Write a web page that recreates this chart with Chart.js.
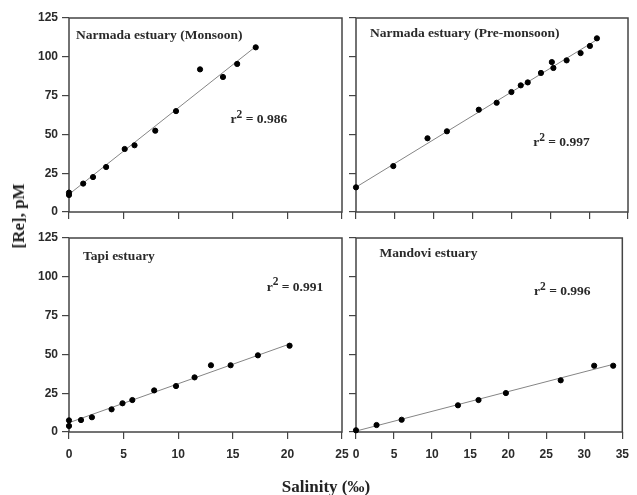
<!DOCTYPE html>
<html>
<head>
<meta charset="utf-8">
<script src="https://cdn.jsdelivr.net/npm/chart.js@4"></script>
<style>
  body{margin:0;background:#fff}
  #wrap{position:relative;width:637px;height:495px;overflow:hidden}
  #wrap canvas{position:absolute;left:0;top:0}
  .axis-title{position:absolute;font:bold 17px "Liberation Serif",serif;color:#222;white-space:nowrap}
  #ylab{left:19px;top:216px;transform:translate(-50%,-50%) rotate(-90deg)}
  #xlab{left:326px;top:487px;transform:translate(-50%,-50%)}
</style>
</head>
<body>
<div id="wrap">
  <canvas id="p-monsoon" width="637" height="495"></canvas>
  <canvas id="p-premonsoon" width="637" height="495"></canvas>
  <canvas id="p-tapi" width="637" height="495"></canvas>
  <canvas id="p-mandovi" width="637" height="495"></canvas>
  <div class="axis-title" id="ylab">[Re], pM</div>
  <div class="axis-title" id="xlab">Salinity (‰)</div>
</div>
<script>
// Re vs salinity, four estuaries
const yTicks = [0, 25, 50, 75, 100, 125];

const monsoonSal = [0, 0, 1.3, 2.2, 3.4, 5.1, 6.0, 7.9, 9.8, 12.0, 14.1, 15.4, 17.1];
const monsoonRe  = [11, 12.5, 18.3, 22.5, 29, 40.6, 43, 52.4, 65, 91.9, 87, 95.4, 106.1];
const monsoonFitSal = [0, 17.1];
const monsoonFitRe  = [11.4, 106.6];

const preSal = [0, 4.8, 9.2, 11.7, 15.8, 18.1, 20.0, 21.2, 22.1, 23.8, 25.2, 25.4, 27.1, 28.9, 30.1, 31.0];
const preRe  = [15.9, 29.6, 47.5, 52, 65.9, 70.4, 77.3, 81.6, 83.5, 89.6, 96.6, 92.8, 97.7, 102.4, 107, 111.9];
const preFitSal = [0, 31];
const preFitRe  = [16, 111];

const tapiSal = [0, 0, 1.1, 2.1, 3.9, 4.9, 5.8, 7.8, 9.8, 11.5, 13.0, 14.8, 17.3, 20.2];
const tapiRe  = [7.5, 3.9, 7.7, 9.5, 14.6, 18.5, 20.6, 26.8, 29.6, 35.2, 43, 43, 49.4, 55.6];
const tapiFitSal = [0, 20.2];
const tapiFitRe  = [6, 56.7];

const mandoviSal = [0, 2.7, 6.0, 13.4, 16.1, 19.7, 26.9, 31.3, 33.8];
const mandoviRe  = [1.1, 4.5, 7.9, 17.2, 20.6, 25.1, 33.3, 42.7, 42.7];
const mandoviFitSal = [0, 33.8];
const mandoviFitRe  = [0.6, 43.6];

const W = 637, H = 495;
const pts = (xs, ys) => xs.map((x, i) => ({x, y: ys[i]}));

// frame + panel captions
const panelDeco = {
  id: 'panelDeco',
  beforeDatasetsDraw(chart) {
    const {ctx, chartArea: a} = chart;
    ctx.save();
    ctx.strokeStyle = '#444'; ctx.lineWidth = 1.5;
    ctx.strokeRect(a.left, a.top, a.right - a.left, a.bottom - a.top);
    ctx.restore();
  },
  afterDatasetsDraw(chart, args, o) {
    const {ctx, scales: {x, y}} = chart;
    const f = s => `bold ${s}px "Liberation Serif", serif`;
    ctx.save();
    ctx.fillStyle = '#2a2a2a'; ctx.textBaseline = 'middle'; ctx.textAlign = 'left';
    ctx.font = f(13.5);
    ctx.fillText(o.title, x.getPixelForValue(o.titleAt[0]), y.getPixelForValue(o.titleAt[1]));
    let px = x.getPixelForValue(o.r2At[0]), py = y.getPixelForValue(o.r2At[1]);
    ctx.fillText('r', px, py); px += ctx.measureText('r').width;
    ctx.font = f(11.5); ctx.fillText('2', px, py - 5); px += ctx.measureText('2').width;
    ctx.font = f(13.5); ctx.fillText(' = ' + o.r2, px, py);
    ctx.restore();
  }
};

const tickFont = {family: '"Liberation Sans", Arial, sans-serif', size: 12, weight: 'bold'};

function panel(id, p) {
  const xH = p.showX ? 40 : 10;
  const yW = p.showY ? 69 : 10;
  const [l, t, r, b] = p.area;
  new Chart(document.getElementById(id), {
    type: 'scatter',
    data: {datasets: [
      {data: pts(p.sal, p.re), backgroundColor: '#000', borderColor: '#000', pointRadius: 2.6, clip: false},
      {data: pts(p.fitSal, p.fitRe), showLine: true, pointRadius: 0, borderColor: '#858585', borderWidth: 1, clip: false}
    ]},
    options: {
      responsive: false, animation: false, devicePixelRatio: 1, events: [],
      layout: {padding: {left: l - yW, top: t, right: W - r, bottom: H - b - xH}},
      plugins: {legend: {display: false}, tooltip: {enabled: false},
        panelDeco: {title: p.title, titleAt: p.titleAt, r2: p.r2, r2At: p.r2At}},
      scales: {
        x: {type: 'linear', min: 0, max: p.xMax,
          afterFit: s => { s.height = xH; },
          ticks: {stepSize: 5, display: p.showX, autoSkip: false, maxRotation: 0, padding: 8, color: '#2a2a2a', font: tickFont},
          grid: {drawOnChartArea: false, tickLength: 7, color: '#444', lineWidth: 1.2},
          border: {display: false}},
        y: {min: 0, max: 125,
          afterFit: s => { s.width = yW; },
          afterBuildTicks: s => { s.ticks = yTicks.map(v => ({value: v})); },
          ticks: {display: p.showY, padding: 4, color: '#2a2a2a', font: tickFont},
          grid: {drawOnChartArea: false, tickLength: 7, color: '#444', lineWidth: 1.2},
          border: {display: false}}
      }
    },
    plugins: [panelDeco]
  });
}

panel('p-monsoon', {area: [69, 18, 342, 212], xMax: 25, showX: false, showY: true,
  sal: monsoonSal, re: monsoonRe, fitSal: monsoonFitSal, fitRe: monsoonFitRe,
  title: 'Narmada estuary (Monsoon)', titleAt: [0.64, 114], r2: '0.986', r2At: [14.8, 59.3]});
panel('p-premonsoon', {area: [356, 18, 628, 212], xMax: 35, showX: false, showY: false,
  sal: preSal, re: preRe, fitSal: preFitSal, fitRe: preFitRe,
  title: 'Narmada estuary (Pre-monsoon)', titleAt: [1.8, 115.3], r2: '0.997', r2At: [22.8, 44.5]});
panel('p-tapi', {area: [69, 238, 342, 432], xMax: 25, showX: true, showY: true,
  sal: tapiSal, re: tapiRe, fitSal: tapiFitSal, fitRe: tapiFitRe,
  title: 'Tapi estuary', titleAt: [1.28, 112.9], r2: '0.991', r2At: [18.1, 93.4]});
panel('p-mandovi', {area: [356, 238, 628, 432], xMax: 35, showX: true, showY: false,
  sal: mandoviSal, re: mandoviRe, fitSal: mandoviFitSal, fitRe: mandoviFitRe,
  title: 'Mandovi estuary', titleAt: [3.1, 115.3], r2: '0.996', r2At: [23.4, 90.2]});
</script>
</body>
</html>
